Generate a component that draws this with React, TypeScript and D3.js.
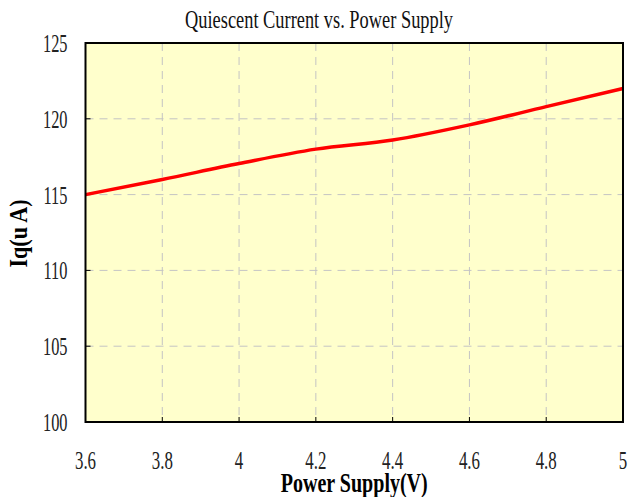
import React from "react";
import * as d3 from "d3";

const supply = [3.6, 3.8, 4.0, 4.2, 4.4, 4.6, 4.8, 5.0];
const current = [115, 116, 117.05, 118, 118.6, 119.6, 120.8, 122];
const xTicks = [3.6, 3.8, 4, 4.2, 4.4, 4.6, 4.8, 5];
const yTicks = [100, 105, 110, 115, 120, 125];

const width = 629;
const height = 497;
const margin = { left: 85.5, right: 6, top: 43, bottom: 75 };
const font = "'Liberation Serif', 'Times New Roman', serif";

export default function App() {
  const x = d3
    .scaleLinear()
    .domain([3.6, 5])
    .range([margin.left, width - margin.right]);
  const y = d3
    .scaleLinear()
    .domain([100, 125])
    .range([height - margin.bottom, margin.top]);

  const line = d3
    .line<number>()
    .x((d, i) => x(supply[i]))
    .y((d) => y(d))
    .curve(d3.curveMonotoneX);

  const [x0, x1] = x.range();
  const [y0, y1] = y.range();

  return (
    <svg
      width={width}
      height={height}
      style={{ position: "absolute", left: 0, top: 0 }}
    >
      <rect width={width} height={height} fill="#ffffff" />
      <text
        x={319}
        y={28}
        textAnchor="middle"
        fontFamily={font}
        fontSize={26}
        textLength={268}
        lengthAdjust="spacingAndGlyphs"
        fill="#111"
      >
        Quiescent Current vs. Power Supply
      </text>

      <rect x={x0} y={y1} width={x1 - x0} height={y0 - y1} fill="#ffffcc" />

      {/* grid */}
      {xTicks.slice(1, -1).map((t) => (
        <line
          key={"gx" + t}
          x1={x(t)}
          x2={x(t)}
          y1={y1}
          y2={y0}
          stroke="#c4c4c4"
          strokeWidth={1}
          strokeDasharray="8,6"
        />
      ))}
      {yTicks.slice(1, -1).map((t) => (
        <line
          key={"gy" + t}
          x1={x0}
          x2={x1}
          y1={y(t)}
          y2={y(t)}
          stroke="#c4c4c4"
          strokeWidth={1}
          strokeDasharray="8,6"
        />
      ))}

      {/* tick marks */}
      {xTicks.map((t) => (
        <line key={"tx" + t} x1={x(t)} x2={x(t)} y1={y0} y2={y0 - 5} stroke="#000" />
      ))}
      {yTicks.map((t) => (
        <line key={"ty" + t} x1={x0} x2={x0 + 5} y1={y(t)} y2={y(t)} stroke="#000" />
      ))}

      <path
        d={line(current) || ""}
        fill="none"
        stroke="#ff0000"
        strokeWidth={3.5}
        strokeLinejoin="round"
      />

      <rect
        x={x0}
        y={y1}
        width={x1 - x0}
        height={y0 - y1}
        fill="none"
        stroke="#000"
        strokeWidth={2}
      />

      {/* tick labels */}
      {xTicks.map((t) => (
        <text
          key={"lx" + t}
          transform={`translate(${x(t)},${y0 + 47}) scale(0.65,1)`}
          textAnchor="middle"
          fontFamily={font}
          fontSize={26}
          fill="#222"
        >
          {String(t)}
        </text>
      ))}
      {yTicks.map((t) => (
        <text
          key={"ly" + t}
          transform={`translate(${x0 - 18},${y(t) + 9}) scale(0.63,1)`}
          textAnchor="end"
          fontFamily={font}
          fontSize={26}
          fill="#222"
        >
          {String(t)}
        </text>
      ))}

      {/* axis titles */}
      <text
        x={(x0 + x1) / 2}
        y={492}
        textAnchor="middle"
        fontFamily={font}
        fontSize={28}
        fontWeight="bold"
        textLength={147}
        lengthAdjust="spacingAndGlyphs"
        fill="#000"
      >
        Power Supply(V)
      </text>
      <text
        transform={`translate(27,${(y0 + y1) / 2 + 1}) rotate(-90)`}
        textAnchor="middle"
        fontFamily={font}
        fontSize={26}
        fontWeight="bold"
        textLength={68}
        lengthAdjust="spacingAndGlyphs"
        fill="#000"
      >
        Iq(u A)
      </text>
    </svg>
  );
}
